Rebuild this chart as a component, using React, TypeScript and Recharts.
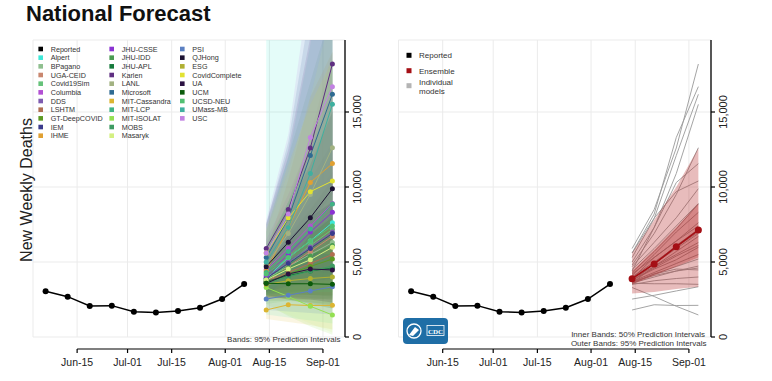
import React from 'react';
import { ComposedChart, Line, Area, XAxis, YAxis, CartesianGrid, ReferenceLine } from 'recharts';

const FONT = '"Liberation Sans", Arial, Helvetica, sans-serif';

// Day-of-year (2021) for every date
const reportedDays = [156, 163, 170, 177, 184, 191, 198, 205, 212, 219];
const reportedValues = [3050, 2690, 2070, 2090, 1690, 1640, 1730, 1950, 2530, 3530];
const forecastDays = [226, 233, 240, 247];
const tickDays = [166, 182, 196, 213, 227, 244];
const tickLabels = ['Jun-15', 'Jul-01', 'Jul-15', 'Aug-01', 'Aug-15', 'Sep-01'];
const yTicks = [0, 5000, 10000, 15000];
const xDomain = [152, 251];
const yDomain = [0, 19800];

const modelNames = [
  'Alpert', 'BPagano', 'UGA-CEID', 'Covid19Sim', 'Columbia', 'DDS', 'LSHTM', 'GT-DeepCOVID', 'IEM', 'IHME',
  'JHU-CSSE', 'JHU-IDD', 'JHU-APL', 'Karlen', 'LANL', 'Microsoft', 'MIT-Cassandra', 'MIT-LCP', 'MIT-ISOLAT', 'MOBS', 'Masaryk',
  'PSI', 'QJHong', 'ESG', 'CovidComplete', 'UA', 'UCM', 'UCSD-NEU', 'UMass-MB', 'USC',
];
const modelColors = [
  '#3ee8d8', '#8fbf8f', '#c9876f', '#66c27a', '#b24fd3', '#7e5cb0', '#b06e52', '#5c9a23', '#3a3a8c', '#e0a032',
  '#8a32d2', '#4a9b52', '#167a3c', '#5f2f82', '#a2b282', '#2f6b92', '#dcb532', '#3fb384', '#94e052', '#3e9b62', '#d4f082',
  '#5b80c2', '#1c1232', '#b0b032', '#e2e232', '#2b1242', '#0b5b0b', '#52c072', '#3fb0a0', '#c282e2',
];
const modelMedian = [
  [3900, 5300, 6400, 7620], [3900, 4700, 5500, 6300], [3600, 4700, 5700, 6700], [3700, 4900, 6100, 7180],
  [4500, 5900, 7400, 8900], [4000, 5000, 6000, 7000], [3700, 4300, 4900, 5500], [3600, 4200, 4700, 5200],
  [3900, 4900, 5900, 6900], [4400, 7300, 10300, 11560], [4100, 5500, 7000, 8310], [3800, 4600, 5400, 6100],
  [3700, 4100, 4400, 4600], [5900, 8500, 12600, 18200], [4800, 6900, 9500, 12620], [5300, 7900, 12100, 16180],
  [1800, 2150, 2100, 2110], [4300, 5700, 7200, 8870], [3300, 2700, 2050, 1470], [3600, 4000, 4400, 4730],
  [3800, 4530, 5150, 5980], [2530, 2780, 3070, 3350], [4690, 6310, 7950, 9890], [3500, 3750, 3900, 4000],
  [5600, 7930, 9690, 10400], [3580, 4200, 4530, 4470], [3580, 3550, 3550, 3510], [4200, 5300, 6400, 7400],
  [5000, 7300, 10900, 15510], [5600, 8200, 13300, 16690],
];
const modelLo95 = [
  [1500, 1300, 1100, 900], [2900, 3000, 3100, 3200], [2600, 2900, 3100, 3300], [2200, 2400, 2500, 2600],
  [3000, 3400, 3700, 3900], [2800, 3000, 3100, 3200], [2500, 2500, 2500, 2500], [2700, 2800, 2800, 2800],
  [3000, 3400, 3700, 3900], [3400, 5000, 6500, 6800], [3000, 3300, 3600, 3800], [2400, 2400, 2300, 2200],
  [2900, 2900, 2800, 2700], [4500, 5800, 7600, 9500], [4000, 5200, 6600, 8000], [3800, 4800, 6500, 8000],
  [1200, 1000, 800, 500], [3200, 3600, 3900, 4200], [2200, 1400, 700, 150], [2700, 2700, 2600, 2500],
  [2000, 1500, 900, 300], [1800, 1700, 1600, 1500], [3800, 4600, 5300, 6000], [2700, 2500, 2300, 2100],
  [4200, 5200, 5600, 5500], [2600, 2600, 2500, 2300], [2800, 2500, 2200, 1900], [2800, 2900, 3000, 3000],
  [3600, 4500, 6000, 7500], [4000, 5000, 6800, 8000],
];
const modelHi95 = [
  [22000, 28000, 32000, 36000], [5000, 6800, 8600, 10500], [5000, 7200, 9600, 12000], [7500, 12000, 17000, 22000],
  [6500, 9500, 13000, 17000], [5600, 8000, 10500, 13000], [5400, 7200, 9000, 11000], [4700, 6100, 7500, 9000],
  [5000, 6700, 8500, 10500], [5600, 10500, 16000, 19000], [5800, 8800, 12500, 16500], [6200, 9000, 12000, 15000],
  [4700, 5800, 6900, 8000], [7600, 12500, 20000, 30000], [5800, 9000, 13500, 19000], [7500, 13000, 22000, 32000],
  [2700, 4000, 5000, 6000], [5800, 9000, 13000, 18000], [4800, 4600, 4400, 4200], [4800, 6000, 7300, 8600],
  [7000, 11000, 16000, 22000], [3600, 4700, 5900, 7200], [5700, 8500, 11500, 15000], [4500, 5500, 6500, 7500],
  [7200, 11500, 15500, 18500], [4800, 6500, 8000, 9000], [4500, 5000, 5500, 6000], [6000, 9000, 12500, 16000],
  [7000, 12000, 19500, 30000], [7800, 13500, 24000, 34000],
];

const ensembleMedian = [3890, 4870, 6020, 7130];
const ensembleLo50 = [3500, 4100, 4700, 5300];
const ensembleHi50 = [4400, 5800, 7300, 8900];
const ensembleLo95 = [2900, 3000, 3200, 3350];
const ensembleHi95 = [5600, 7800, 10000, 12600];

const rows: any[] = [
  ...reportedDays.map((d, i) => ({ x: d, reported: reportedValues[i] })),
  ...forecastDays.map((d, j) => {
    const r: any = {
      x: d,
      ens: ensembleMedian[j],
      e50: [ensembleLo50[j], ensembleHi50[j]],
      e95: [ensembleLo95[j], ensembleHi95[j]],
    };
    modelNames.forEach((_, k) => {
      r['m' + k] = modelMedian[k][j];
      r['b' + k] = [modelLo95[k][j], modelHi95[k][j]];
    });
    return r;
  }),
];

const XTick = (props: any) => {
  const { x, y, payload } = props;
  const i = tickDays.indexOf(payload.value);
  return (
    <g>
      <line x1={x} x2={x} y1={y + 12} y2={y + 16} stroke="#000" strokeWidth={1.2} />
      <text x={x} y={y + 29} textAnchor="middle" fontSize={10.5} fill="#222" fontFamily={FONT}>
        {tickLabels[i]}
      </text>
    </g>
  );
};

const YTick = (props: any) => {
  const { x, y, payload } = props;
  return (
    <text x={x} y={y} dy={4} transform={`rotate(-90, ${x}, ${y})`} textAnchor="middle" fontSize={11} fill="#222" fontFamily={FONT}>
      {Number(payload.value).toLocaleString('en-US')}
    </text>
  );
};

const axes = (
  [
    <CartesianGrid key="g" stroke="#ebebeb" strokeWidth={1} />,
    <XAxis key="x" dataKey="x" type="number" domain={xDomain} ticks={tickDays} axisLine={false} tickLine={false}
      tickSize={0} tickMargin={0} height={40} tick={<XTick />} interval={0} />,
    <YAxis key="y" orientation="right" type="number" domain={yDomain} ticks={yTicks} allowDataOverflow width={30}
      axisLine={{ stroke: '#000', strokeWidth: 1.3 }} tickLine={{ stroke: '#000', strokeWidth: 1.2 }}
      tickSize={4} tickMargin={8} tick={<YTick />} interval={0} />,
    <ReferenceLine key="xl" segment={[{ x: tickDays[0], y: -800 }, { x: tickDays[tickDays.length - 1], y: -800 }]}
      stroke="#000" strokeWidth={1.2} ifOverflow="visible" />,
  ]
);

const LeftChart = () => (
  <ComposedChart width={390} height={381} data={rows} margin={{ top: 40, right: 15, bottom: 4, left: 33 }}>
    {axes}
    {modelNames.map((n, k) => (
      <Area key={'b' + k} dataKey={'b' + k} type="linear" stroke="none" fill={modelColors[k]} fillOpacity={0.14}
        isAnimationActive={false} />
    ))}
    {modelNames.map((n, k) => (
      <Line key={'m' + k} dataKey={'m' + k} name={n} type="linear" stroke={modelColors[k]} strokeWidth={1}
        dot={{ r: 2.5, fill: modelColors[k], stroke: modelColors[k], strokeWidth: 0 }} isAnimationActive={false} />
    ))}
    <Line dataKey="reported" type="linear" stroke="#000" strokeWidth={1.5}
      dot={{ r: 3, fill: '#000', stroke: '#000', strokeWidth: 0 }} isAnimationActive={false} />
  </ComposedChart>
);

const RightChart = () => (
  <ComposedChart width={382} height={381} data={rows} margin={{ top: 40, right: 31, bottom: 4, left: 8.5 }}>
    {axes}
    {modelNames.map((n, k) => (
      <Line key={'g' + k} dataKey={'m' + k} type="linear" stroke="#9a9a9a" strokeWidth={1} strokeOpacity={0.9}
        dot={false} isAnimationActive={false} zIndex={150} />
    ))}
    <Area dataKey="e95" type="linear" stroke="none" fill="#b22222" fillOpacity={0.3} isAnimationActive={false} zIndex={200} />
    <Area dataKey="e50" type="linear" stroke="none" fill="#b22222" fillOpacity={0.35} isAnimationActive={false} zIndex={200} />
    <Line dataKey="ens" type="linear" stroke="#a50f15" strokeWidth={1.6}
      dot={{ r: 3.5, fill: '#a50f15', stroke: '#a50f15', strokeWidth: 0 }} isAnimationActive={false} zIndex={300} />
    <Line dataKey="reported" type="linear" stroke="#000" strokeWidth={1.5}
      dot={{ r: 3, fill: '#000', stroke: '#000', strokeWidth: 0 }} isAnimationActive={false} zIndex={300} />
  </ComposedChart>
);

const legendCols = [modelNames.slice(0, 10), modelNames.slice(10, 21), modelNames.slice(21)];
const legendColColors = [modelColors.slice(0, 10), modelColors.slice(10, 21), modelColors.slice(21)];

const Overlay = () => {
  const colX = [40.7, 111.7, 182.3];
  const rowY = (i: number) => 49 + i * 8.67;
  const items: any[] = [];
  legendCols.forEach((col, c) => {
    const names = c === 0 ? ['Reported', ...col] : col;
    const cols = c === 0 ? ['#000', ...legendColColors[0]] : legendColColors[c];
    names.forEach((n, i) => {
      items.push(
        <g key={c + '-' + i}>
          <rect x={colX[c] - 2.3} y={rowY(i) - 2.3} width={4.6} height={4.6} fill={cols[i]} />
          <text x={colX[c] + 10} y={rowY(i) + 2.6} fontSize={7.2} fill="#333" fontFamily={FONT}>{n}</text>
        </g>
      );
    });
  });
  return (
    <svg width={772} height={381} style={{ position: 'absolute', left: 0, top: 0, pointerEvents: 'none' }}>
      <text x={26} y={21} fontSize={22} fontWeight="bold" fill="#111" fontFamily={FONT}>National Forecast</text>
      <text x={31.5} y={190} transform="rotate(-90, 31.5, 190)" textAnchor="middle" fontSize={16} fill="#222" fontFamily={FONT}>
        New Weekly Deaths
      </text>
      {items}
      <text x={340.5} y={342} textAnchor="end" fontSize={8} fill="#333" fontFamily={FONT}>Bands: 95% Prediction Intervals</text>

      <rect x={406.5} y={52.8} width={5} height={5} fill="#000" />
      <text x={419} y={58.2} fontSize={8} fill="#333" fontFamily={FONT}>Reported</text>
      <rect x={406.5} y={68.2} width={5} height={5} fill="#a50f15" />
      <text x={419} y={73.6} fontSize={8} fill="#333" fontFamily={FONT}>Ensemble</text>
      <rect x={406.5} y={83.2} width={5} height={5} fill="#b4b4b4" />
      <text x={419} y={84.6} fontSize={8} fill="#333" fontFamily={FONT}>Individual</text>
      <text x={419} y={93.9} fontSize={8} fill="#333" fontFamily={FONT}>models</text>

      <text x={705} y={337.3} textAnchor="end" fontSize={8} fill="#333" fontFamily={FONT}>Inner Bands: 50% Prediction Intervals</text>
      <text x={706.5} y={346.3} textAnchor="end" fontSize={8} fill="#333" fontFamily={FONT}>Outer Bands: 95% Prediction Intervals</text>

      <rect x={403} y={318} width={45} height={26} rx={4} fill="#1f6ea6" />
      <circle cx={414} cy={331} r={7} fill="none" stroke="#fff" strokeWidth={1.3} />
      <path d="M409 335 L415 327 L419 330 L413 336 Z" fill="#fff" />
      <rect x={427} y={325.5} width={17} height={10} fill="none" stroke="#fff" strokeWidth={0.8} />
      <text x={435.5} y={333.5} textAnchor="middle" fontSize={7} fontWeight="bold" fill="#fff" fontFamily="'Liberation Serif', serif">CDC</text>
    </svg>
  );
};

export default function App() {
  return (
    <div style={{ position: 'absolute', left: 0, top: 0, width: 772, height: 381, background: '#fff', overflow: 'hidden' }}>
      <div style={{ position: 'absolute', left: 0, top: 0 }}>
        <LeftChart />
      </div>
      <div style={{ position: 'absolute', left: 390, top: 0 }}>
        <RightChart />
      </div>
      <Overlay />
    </div>
  );
}
